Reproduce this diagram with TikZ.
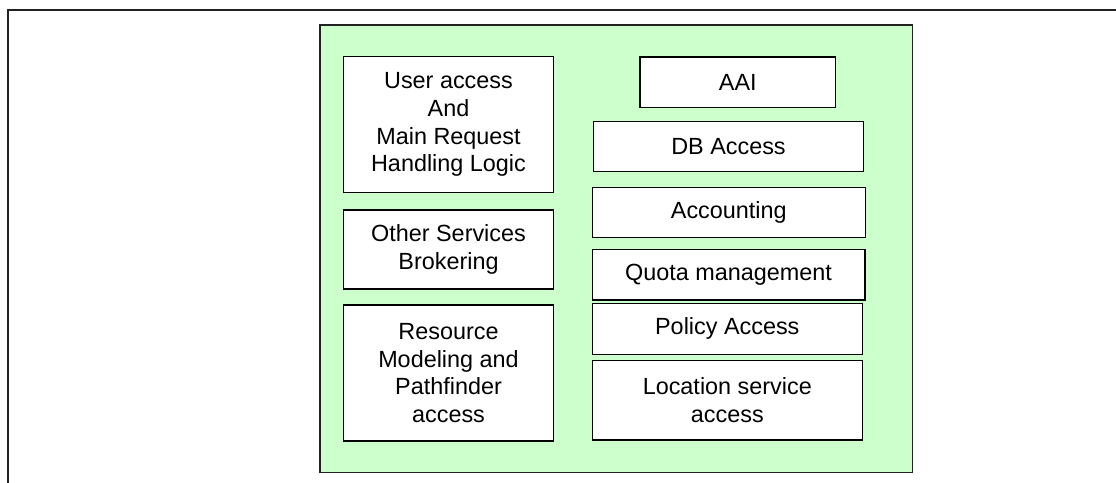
\documentclass[tikz,border=0pt]{standalone}
\usepackage{fontspec}
\setmainfont{Liberation Sans}
\definecolor{panelgreen}{HTML}{CCFFCC}
\definecolor{framegray}{HTML}{222222}
\begin{document}
\begin{tikzpicture}[x=1pt,y=-1pt,
  modbox/.style={draw=black,line width=1.4pt,fill=white,inner sep=0pt,align=center,
    font=\fontsize{23.4}{27.6}\selectfont},
  panel/.style={draw=framegray,line width=1.4pt,fill=panelgreen,inner sep=0pt},
  frame/.style={draw=framegray,line width=1.4pt}]
\useasboundingbox (0,0) rectangle (1116,482);
% outer frame (open at right and bottom)
\coordinate (fbl) at (8,490);
\coordinate (ftl) at (8,10);
\coordinate (ftr) at (1125,10);
\draw[frame] (fbl) -- (ftl) -- (ftr);
% green panel
\node[panel,minimum width=592.7pt,minimum height=447.3pt] (panel) at (616.35,248.65) {};
% left column
\node[modbox,minimum width=209.6pt,minimum height=136pt] (user) at (448.5,124.7)
  {User access\\And\\Main Request\\Handling Logic};
\node[modbox,minimum width=209.6pt,minimum height=79pt] (other) at (448.5,249.5)
  {Other Services\\Brokering};
\node[modbox,minimum width=209.6pt,minimum height=136pt] (res) at (448.5,373)
  {Resource\\Modeling and\\Pathfinder\\access};
% right column
\node[modbox,minimum width=195.7pt,minimum height=50.3pt] (aai) at (737.8,82.2) {AAI};
\node[modbox,minimum width=270.4pt,minimum height=50pt] (db) at (728.5,146.7) {DB Access};
\node[modbox,minimum width=273pt,minimum height=50pt] (acc) at (728.8,212.3) {Accounting};
\node[modbox,minimum width=272.7pt,minimum height=50.7pt] (quota) at (728.6,274.7) {Quota management};
\node[modbox,minimum width=270pt,minimum height=51pt] (policy) at (727.3,328.8) {Policy Access};
\node[modbox,minimum width=270pt,minimum height=79.3pt] (loc) at (727.3,400.3) {Location service\\access};
\end{tikzpicture}
\end{document}
